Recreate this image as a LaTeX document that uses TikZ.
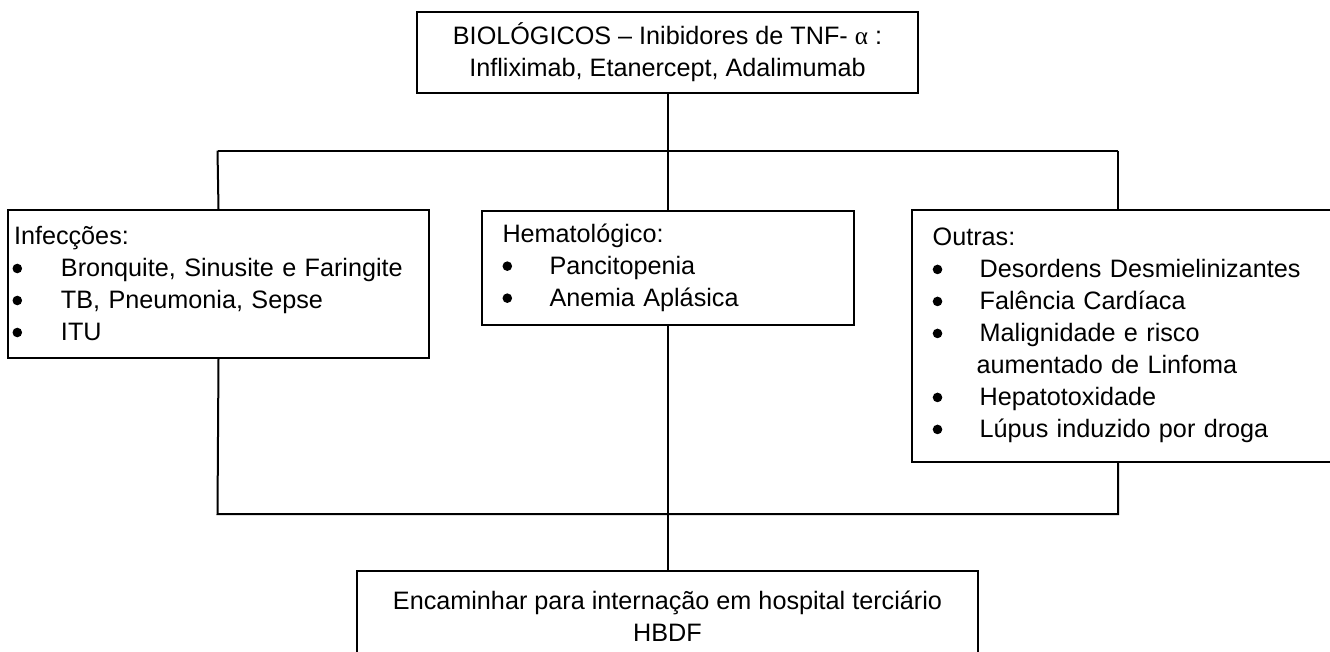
\documentclass[tikz,border=0pt]{standalone}
\usepackage{fontspec}
\setmainfont{Liberation Sans}
\newfontfamily\serifalpha{Liberation Serif}
\newcommand{\bulmark}{\tikz[baseline=-8.5pt]\fill (0,0) circle[radius=4.8pt];}
\newcommand{\bul}{\makebox[47pt][l]{\bulmark}}
\newcommand{\bulL}{\makebox[47pt][l]{\hspace{-1.5pt}\bulmark}}
\begin{document}
\begin{tikzpicture}[x=1pt,y=1pt,
  box/.style={draw, line width=2pt, inner sep=0pt, anchor=north west},
  conn/.style={line width=2pt},
  every node/.style={font=\fontsize{25.2}{32}\selectfont}]
\useasboundingbox (0,0) rectangle (1330,-652);
\clip (0,0) rectangle (1330,-652);

\node[box, minimum width=501, minimum height=81, align=center] (top) at (416,-11)
  {BIOLÓGICOS – Inibidores de TNF- {\serifalpha α} :\\Infliximab, Etanercept, Adalimumab};

\node[box, minimum width=421, minimum height=148, text width=409, align=left] (inf) at (7,-209)
  {Infecções:\\\bulL Bronquite, Sinusite e Faringite\\\bulL TB, Pneumonia, Sepse\\\bulL ITU};

\node[box, minimum width=372, minimum height=114, text width=330, align=left] (mid) at (480.5,-210)
  {Hematológico:\\\bul Pancitopenia\\\bul Anemia Aplásica};

\node[box, minimum width=421, minimum height=251.5, text width=379, align=left] (out) at (910.7,-209)
  {Outras:\\\bul Desordens Desmielinizantes\\\bul Falência Cardíaca\\\bul Malignidade e risco\\\hspace*{44pt}aumentado de Linfoma\\\bul Hepatotoxidade\\\bul Lúpus induzido por droga};

\node[box, minimum width=621, minimum height=90, align=center] (fin) at (356,-570)
  {Encaminhar para internação em hospital terciário\\HBDF};

\coordinate (jl) at (217.5,-150.7);
\coordinate (jr) at (1118,-150.7);
\coordinate (bl) at (217.5,-514);
\coordinate (br) at (1118,-514);

\draw[conn] (top.south) -- (mid.north);
\draw[conn] (jl) -- (jr);
\draw[conn] (jl) -- (inf.north);
\draw[conn] (jr) -- (jr |- out.north);
\draw[conn] (inf.south) -- (bl) -- (br) -- (br |- out.south);
\draw[conn] (mid.south) -- (fin.north);
\end{tikzpicture}
\end{document}
